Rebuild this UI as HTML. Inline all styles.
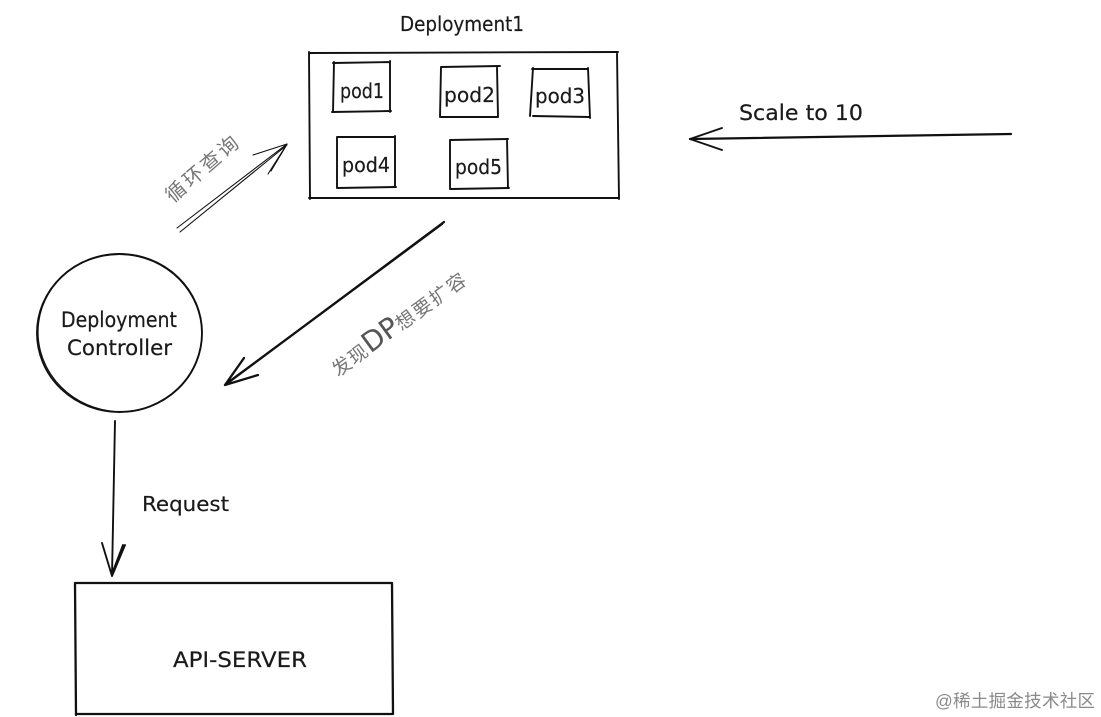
<!DOCTYPE html>
<html>
<head>
<meta charset="utf-8">
<style>
html,body{margin:0;padding:0;background:#fff;width:1101px;height:717px;overflow:hidden}
svg{display:block}
.l{fill:none;stroke:#111;stroke-width:1.9;stroke-linecap:round;stroke-linejoin:round}
.n{stroke-width:1.1}
.h{stroke-width:2.3}
.t{font-family:"DejaVu Sans","Liberation Sans","Noto Sans CJK SC",sans-serif;fill:#1a1a1a;stroke:#1a1a1a;stroke-width:.2}
.c{font-family:"Noto Sans CJK SC","WenQuanYi Zen Hei",sans-serif;fill:#777}
</style>
</head>
<body>
<svg width="1101" height="717" viewBox="0 0 1101 717" xmlns="http://www.w3.org/2000/svg">
<rect width="1101" height="717" fill="#fff"/>
<!-- Deployment box -->
<path class="l" d="M309 53 L618 52 M617 52 L619 199 M619 198 L309 198 M310 199 L309 52"/>
<!-- Pods -->
<path class="l" d="M333 63 L390 62 M390 61 L390 112 M391 111 L332 112 M333 112 L334 62"/>
<path class="l" d="M441 67 L500 66 M497 67 L498 117 M498 117 L441 117 M440 117 L441 67"/>
<path class="l" d="M532 69 L588 69 M588 68 L590 118 M589 117 L533 116 M530 116 L533 68"/>
<path class="l" d="M337 137 L395 137 M395 136 L395 187 M396 187 L338 188 M337 188 L337 137"/>
<path class="l" d="M450 140 L508 139 M507 139 L508 188 M509 188 L451 189 M450 189 L450 140"/>
<!-- Circle -->
<ellipse class="l" cx="119.500" cy="333" rx="82.500" ry="79"/>
<ellipse class="l n" cx="120" cy="333" rx="82" ry="78.500" transform="rotate(8 120 333)"/>
<!-- API server -->
<path class="l h" d="M75 583 L392 583 M392 583 L393 714 M393 714 L76 714 M76 715 L75 583"/>
<!-- Arrows -->
<path class="l n" d="M177 228 L287 144 M180 232 L287 145 M253 155 L287 144 M268 174 L287 144 M271 171 L286 146"/>
<path class="l h" d="M444 222 L225 385 M442 224 L226 384 M244 358 L225 385 M258 375 L225 385"/>
<path class="l" d="M115 421 L112 576 M102 543 L112 576 M125 545 L112 576 M123 545 L112 574"/>
<path class="l h" d="M1011 134 L690 139"/>
<path class="l" d="M722 128 L690 139 M722 150 L690 139"/>
<!-- Labels -->
<text class="t" x="400" y="31" font-size="20" textLength="124" lengthAdjust="spacingAndGlyphs">Deployment1</text>
<text class="t" x="340" y="98" font-size="20" textLength="44" lengthAdjust="spacingAndGlyphs">pod1</text>
<text class="t" x="444" y="102" font-size="20" textLength="51" lengthAdjust="spacingAndGlyphs">pod2</text>
<text class="t" x="535" y="103" font-size="20" textLength="50" lengthAdjust="spacingAndGlyphs">pod3</text>
<text class="t" x="342" y="172" font-size="20" textLength="48" lengthAdjust="spacingAndGlyphs">pod4</text>
<text class="t" x="455" y="174" font-size="20" textLength="47" lengthAdjust="spacingAndGlyphs">pod5</text>
<text class="t" x="739" y="120" font-size="21" textLength="124" lengthAdjust="spacingAndGlyphs">Scale to 10</text>
<text class="t" x="61" y="327" font-size="21" textLength="116" lengthAdjust="spacingAndGlyphs">Deployment</text>
<text class="t" x="67" y="355" font-size="21" textLength="105" lengthAdjust="spacingAndGlyphs">Controller</text>
<text class="t" x="142" y="511" font-size="20" textLength="87" lengthAdjust="spacingAndGlyphs">Request</text>
<text class="t" x="173" y="667" font-size="21" textLength="134" lengthAdjust="spacingAndGlyphs">API-SERVER</text>
<text class="c" x="203" y="175" font-size="20" text-anchor="middle" letter-spacing="3" transform="rotate(-41 203 168)">循环查询</text>
<text class="c" x="399" y="331" font-size="19" text-anchor="middle" transform="rotate(-36 399 323)"><tspan letter-spacing="1">发现</tspan><tspan font-family="DejaVu Sans" font-size="28" fill="#555">DP</tspan><tspan letter-spacing="2">想要扩容</tspan></text>
<text x="935" y="707" font-size="17.500" textLength="160" fill="#8a8a8a" style="font-family:'Liberation Sans','Noto Sans CJK SC',sans-serif">@稀土掘金技术社区</text>
</svg>
</body>
</html>
